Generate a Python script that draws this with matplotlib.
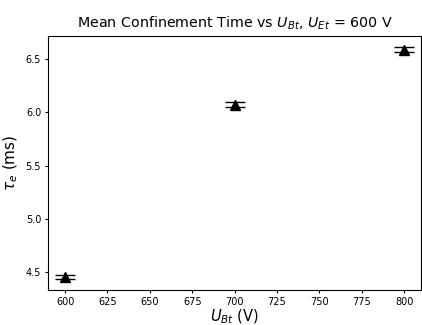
import matplotlib.pyplot as plt
import numpy as np

u_bt = [600, 700, 800]
tau_e = [4.456, 6.070, 6.588]
tau_err = [0.017, 0.024, 0.023]


def main():
    fig, ax = plt.subplots(figsize=(4.22, 3.25), dpi=100)
    ax.errorbar(u_bt, tau_e, yerr=tau_err, fmt="^", color="black",
                markersize=7, capsize=7, elinewidth=1, capthick=1)
    ax.set_title(r"Mean Confinement Time vs $U_{Bt}$, $U_{Et}$ = 600 V", fontsize=10.3)
    ax.set_xlabel(r"$U_{Bt}$ (V)", fontsize=10.5, labelpad=0)
    ax.set_ylabel(r"$\tau_e$ (ms)", fontsize=11)
    ax.set_xticks(np.arange(600, 801, 25))
    ax.tick_params(labelsize=7, length=2.5, pad=2.5)
    fig.subplots_adjust(left=0.114, right=0.998, top=0.89, bottom=0.107)
    fig.savefig("out.png")


if __name__ == "__main__":
    main()
